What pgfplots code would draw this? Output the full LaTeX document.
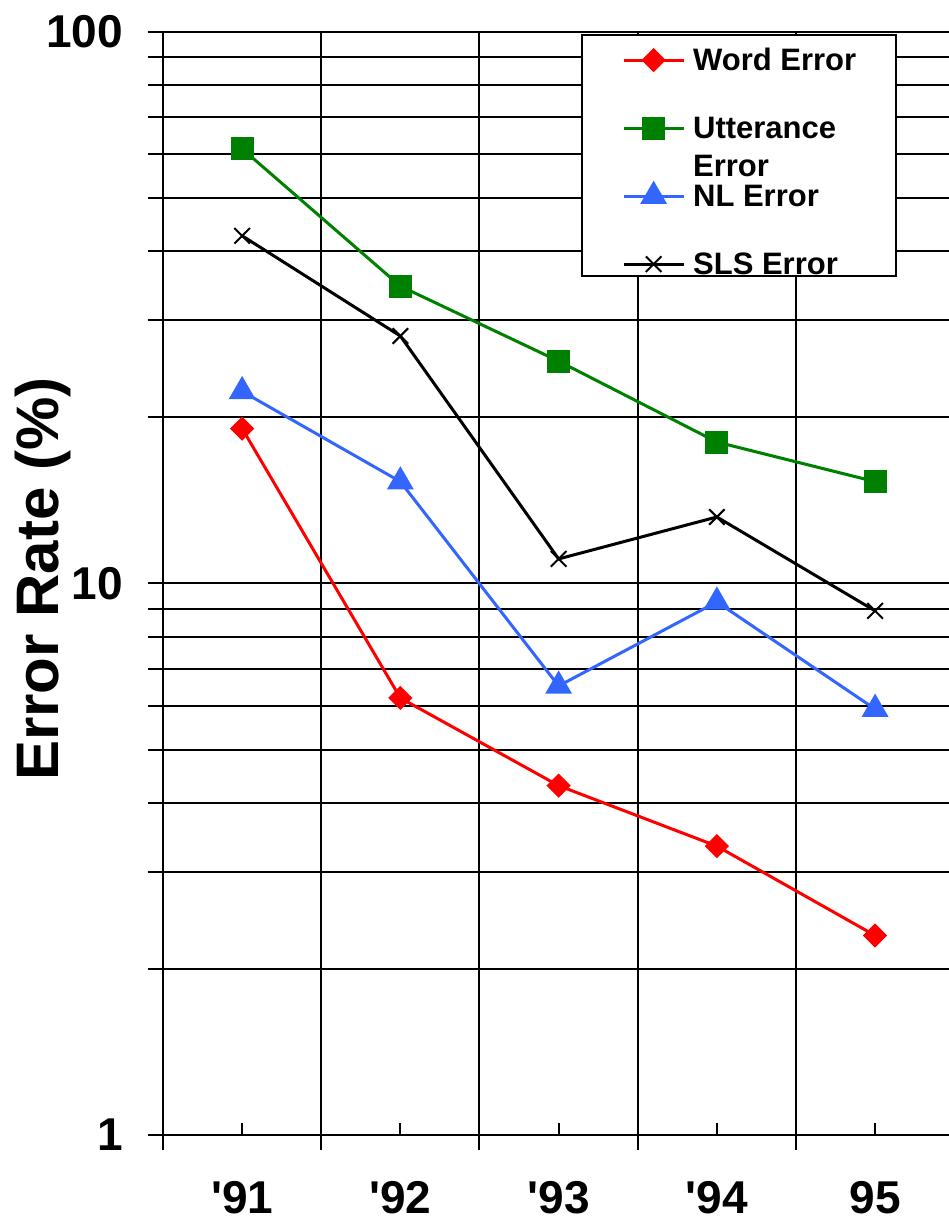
\documentclass[border=0pt]{standalone}
\usepackage{fontspec}
\setmainfont{Liberation Sans}
\usepackage{pgfplots}
\pgfplotsset{compat=1.18}
\definecolor{cred}{RGB}{255,0,0}
\definecolor{cgreen}{RGB}{0,128,0}
\definecolor{cblue}{RGB}{51,102,255}
\newcommand\sq{\XeTeXglyph\XeTeXcharglyph"27\relax}
\begin{document}
\begin{tikzpicture}
\begin{axis}[
  at={(163pt,88pt)}, anchor=south west,
  scale only axis, width=786pt, height=1103pt,
  ymode=log, ymin=1, ymax=100,
  xmin=0, xmax=4.967,
  axis x line*=bottom, axis y line*=left,
  axis line style={-, line width=2.2pt, black},
  tick align=outside,
  ytick={1,10,100}, yticklabels={1,10,100},
  minor ytick={2,3,4,5,6,7,8,9,20,30,40,50,60,70,80,90},
  ymajorgrids, yminorgrids,
  major tick length=15pt, minor tick length=15pt,
  every tick/.style={black, line width=2pt},
  major grid style={black, line width=2pt},
  minor grid style={black, line width=2pt},
  xtick={0,1,2,3,4}, xticklabels={}, xmajorgrids,
  extra x ticks={0.5,1.5,2.5,3.5,4.5},
  extra x tick labels={\sq91,\sq92,\sq93,\sq94,95},
  extra x tick style={grid=none, major tick length=12pt, tick align=inside},
  ticklabel style={font=\fontsize{46}{56}\selectfont\bfseries},
  yticklabel style={anchor=east, inner sep=0pt, xshift=-25pt},
  xticklabel style={anchor=north, inner sep=0pt, yshift=-46pt},
  ylabel={Error Rate (\%)},
  ylabel style={font=\fontsize{60}{70}\selectfont\bfseries, at={(axis description cs:-0.188,0.504)}, anchor=north, inner sep=0pt},
  legend style={at={(rel axis cs:0.532,0.998)}, anchor=north west, draw=black, line width=2pt, fill=white,
    inner xsep=40pt, inner ysep=2pt, row sep=35pt, column sep=8pt,
    font=\fontsize{31}{38}\selectfont\bfseries,
    nodes={inner sep=0pt, text height=33pt, text depth=0pt},
    cells={anchor=base west}},
  legend image code/.code={\draw[mark repeat=2, mark phase=2] plot coordinates {(0pt,10pt) (30pt,10pt) (60pt,10pt)};},
]
\addplot[cred, line width=3pt, mark=square*, mark size=7.07pt, mark options={rotate=45, solid}]
  coordinates {(0.5,19.1) (1.5,6.2) (2.5,4.3) (3.5,3.34) (4.5,2.3)};
\addlegendentry{Word Error}
\addplot[cgreen, line width=3pt, mark=square*, mark size=10pt, mark options={solid}]
  coordinates {(0.5,61.4) (1.5,34.6) (2.5,25.3) (3.5,18.05) (4.5,15.3)};
\addlegendentry{\smash{\begin{tabular}[t]{@{}l@{}}Utterance\\Error\end{tabular}}}
\addplot[cblue, line width=3pt, mark=triangle*, mark size=12.5pt, mark options={solid}]
  coordinates {(0.5,22.3) (1.5,15.3) (2.5,6.52) (3.5,9.26) (4.5,5.92)};
\addlegendentry{NL Error}
\addplot[black, line width=3pt, mark=x, mark size=11pt, mark options={solid, line width=2pt}]
  coordinates {(0.5,42.7) (1.5,28.1) (2.5,11.08) (3.5,13.2) (4.5,8.92)};
\addlegendentry{SLS Error}
\end{axis}
\pgfresetboundingbox
\useasboundingbox (0,0) rectangle (949pt,1223pt);
\end{tikzpicture}
\end{document}
